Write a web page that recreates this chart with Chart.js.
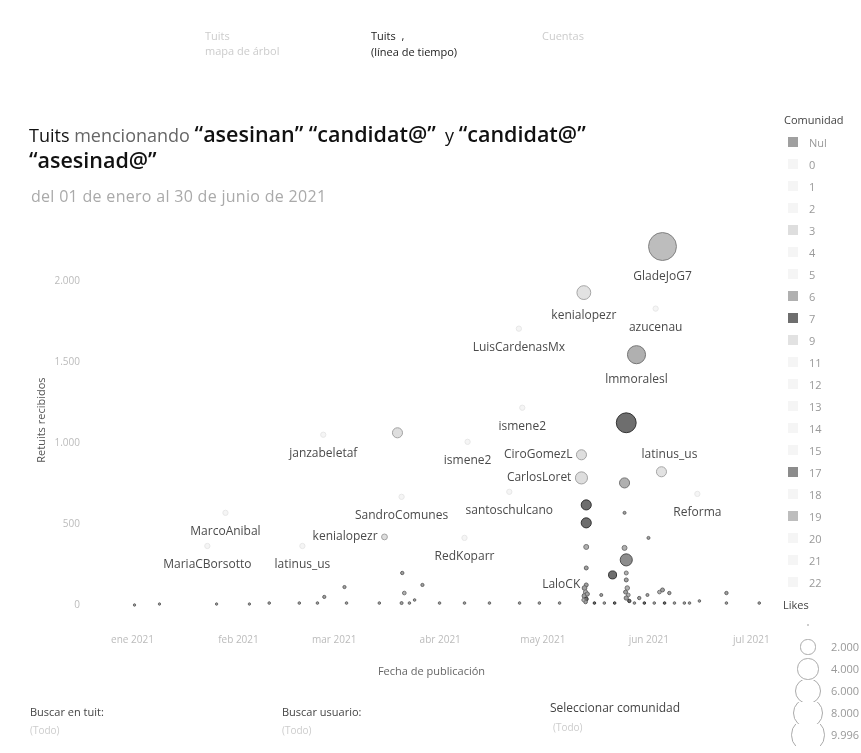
<!DOCTYPE html>
<html><head><meta charset="utf-8">
<script src="https://cdn.jsdelivr.net/npm/chart.js@4"></script>
<style>
html,body{margin:0;padding:0;background:#fff;}
body{width:861px;height:753px;position:relative;overflow:hidden;font-family:"Open Sans",sans-serif;}
.abs{position:absolute;white-space:nowrap;line-height:1;}
#cv{position:absolute;left:0;top:0;}
.lg-row{position:absolute;left:786px;width:75px;height:22px;}
.sw{position:absolute;left:2px;top:6px;width:10px;height:10px;}
.lt{position:absolute;left:23px;top:4px;font-size:11px;color:#999;}
.sz-row{position:absolute;left:778px;width:83px;height:22px;overflow:hidden;}
.circ{position:absolute;border:1px solid #aaa;border-radius:50%;background:#fff;box-sizing:border-box;}
.q{font-weight:600;font-size:21.5px;}
</style></head><body>
<canvas id="cv" width="861" height="753"></canvas>

<div class="abs" style="left:205px;top:30px;font-size:11px;color:#ccc;">Tuits</div>
<div class="abs" style="left:205px;top:45px;font-size:11px;color:#ccc;">mapa de árbol</div>
<div class="abs" style="left:371px;top:30px;font-size:11px;color:#222;">Tuits &nbsp;,</div>
<div class="abs" style="left:371px;top:46px;font-size:11px;color:#222;">(línea de tiempo)</div>
<div class="abs" style="left:542px;top:30px;font-size:11px;color:#ccc;">Cuentas</div>

<div class="abs" style="left:29px;top:123px;font-size:18px;color:#111;">Tuits <span style="color:#666">mencionando</span> <span class="q">“asesinan” “candidat@”</span>&nbsp; y <span class="q">“candidat@”</span></div>
<div class="abs" style="left:29px;top:149px;font-size:18px;color:#111;"><span class="q">“asesinad@”</span></div>
<div class="abs" style="left:31px;top:188px;font-size:16px;letter-spacing:0.3px;color:#aaa;">del 01 de enero al 30 de junio de 2021</div>

<div class="abs" style="left:30px;top:706px;font-size:11px;color:#444;">Buscar en tuit:</div>
<div class="abs" style="left:282px;top:706px;font-size:11px;color:#444;">Buscar usuario:</div>
<div class="abs" style="left:550px;top:702px;font-size:12px;color:#444;">Seleccionar comunidad</div>
<div class="abs" style="left:30px;top:725px;font-size:10px;color:#ccc;">(Todo)</div>
<div class="abs" style="left:282px;top:725px;font-size:10px;color:#ccc;">(Todo)</div>
<div class="abs" style="left:553px;top:722px;font-size:10px;color:#ccc;">(Todo)</div>

<div class="abs" style="left:784px;top:114px;font-size:11px;color:#444;">Comunidad</div>
<div id="legend"></div>
<div class="abs" style="left:783px;top:599px;font-size:11px;color:#444;">Likes</div>
<div id="sizelegend"></div>

<script>
// ---- data ----
// day of publication, counted from 1 Jan 2021 (0 = 1 ene 2021)
const pubDay = [155, 132, 153, 113, 147.4, 114, 77.5, 144.4, 55.8, 98,
  131.3, 154.7, 131.3, 143.9, 110.2, 78.7, 165.2, 132.7, 132.7, 143.9,
  27.2, 73.7, 150.9, 97.1, 21.9, 49.7, 132.7, 143.9, 144.4, 140.4,
  132.7, 144.4, 144.4, 132.7,
  132.2, 132.5, 132.2, 132.7, 132.5, 131.9, 133,
  144.7, 144.2, 145, 144.4, 145.3,
  148.2, 150.6, 154.1, 155, 157, 173.7, 173.7, 137.1, 165.8, 183.3,
  62, 78.9, 79.5, 78.7, 56.1, 54.1, 62.6, 84.8, 97.1, 113.2, 24.6, 0.6, 7.9, 34.2, 40, 48.8, 72.2, 81, 82.5, 89.8, 104.4, 119, 124.9,
  135.1, 138, 141, 146.8, 149.7, 152.6, 155.6, 158.5, 161.4, 162.9];
const retweets = [2217, 1932, 1833, 1709, 1548, 1220, 1065, 1127, 1053, 1009,
  929, 824, 786, 755, 700, 669, 687, 619, 508, 570,
  570, 421, 415, 415, 365, 365, 359, 353, 279, 186,
  229, 198, 155, 124,
  105, 80, 56, 37, 19, 31, 68,
  105, 80, 62, 43, 25,
  43, 62, 80, 93, 74, 74, 12, 62, 25, 12,
  111, 198, 74, 12, 50, 12, 12, 124, 12, 12, 6, 0, 6, 6, 12, 12, 12, 12, 31, 12, 12, 12, 12,
  12, 12, 12, 12, 12, 12, 12, 12, 12, 12];
const likes = [6900, 1700, 250, 250, 2900, 250, 900, 3500, 250, 250,
  900, 900, 1300, 900, 250, 250, 250, 900, 900, 80,
  250, 300, 80, 250, 250, 250, 220, 220, 1300, 570,
  140, 140, 140, 140,
  200, 160, 220, 140, 120, 100, 160,
  180, 140, 120, 160, 100,
  100, 80, 120, 140, 100, 100, 60, 80, 60, 60,
  90, 100, 120, 80, 90, 60, 60, 90, 60, 60, 40, 40, 40, 40, 60, 60, 60, 60, 60, 60, 60, 60, 60,
  60, 60, 60, 60, 60, 60, 60, 60, 60, 60];
const community = ['19','9','0','1','6','2','3','7','4','2',
  '3','9','3','6','5','11','12','7','7','Nul',
  '13','3','Nul','14','15','18','6','6','17','7',
  'Nul','6','Nul','Nul',
  'Nul','6','Nul','7','Nul','6','Nul',
  '6','Nul','6','Nul','7',
  'Nul','Nul','6','Nul','Nul','Nul','Nul','Nul','Nul','Nul',
  'Nul','Nul','6','Nul','Nul','Nul','Nul','Nul','Nul','Nul','Nul','Nul','Nul','Nul','Nul','Nul','Nul','Nul','Nul','Nul','Nul','Nul','Nul',
  '7','Nul','7','Nul','7','Nul','7','Nul','Nul','Nul'];
const users = ['GladeJoG7','kenialopezr','azucenau','LuisCardenasMx','lmmoralesl','ismene2','','','janzabeletaf','ismene2',
  'CiroGomezL','latinus_us','CarlosLoret','','santoschulcano','SandroComunes','Reforma','','','',
  'MarcoAnibal','kenialopezr','','RedKoparr','MariaCBorsotto','latinus_us','','','','',
  '','','','LaloCK'];
const communities = ['Nul','0','1','2','3','4','5','6','7','9','11','12','13','14','15','17','18','19','20','21','22'];
const xTickDays = [0, 31, 59, 90, 120, 151, 181];
const xTickLabels = ['ene 2021','feb 2021','mar 2021','abr 2021','may 2021','jun 2021','jul 2021'];
const yTickValues = [0, 500, 1000, 1500, 2000];
const likesLegend = [0, 2000, 4000, 6000, 8000, 9996];

// ---- styles ----
const commColor = {'Nul':'#a0a0a0','0':'#f5f5f5','1':'#f5f5f5','2':'#f5f5f5','3':'#dedede','4':'#f5f5f5','5':'#f5f5f5',
  '6':'#b0b0b0','7':'#6e6e6e','9':'#e2e2e2','11':'#f5f5f5','12':'#f5f5f5','13':'#f5f5f5','14':'#f5f5f5','15':'#f5f5f5',
  '17':'#8c8c8c','18':'#f5f5f5','19':'#bdbdbd','20':'#f5f5f5','21':'#f5f5f5','22':'#f5f5f5'};
const commBorder = c => { const v=parseInt(commColor[c].slice(1,3),16); const d=Math.max(0, v - (v>240 ? 14 : 60)).toString(16).padStart(2,'0'); return '#'+d+d+d; };
const labelPlace = {10:'left',11:'above',12:'left',21:'left',33:'left'};
const sizeOf = l => Math.max(1.2, 0.168*Math.sqrt(l));
const fmt = v => v.toLocaleString('de-DE');

const points = pubDay.map((d,i)=>({x:d, y:retweets[i]}));

const labelPlugin = {
  id:'pointLabels',
  afterDatasetsDraw(chart){
    const ctx = chart.ctx, meta = chart.getDatasetMeta(0);
    ctx.save();
    ctx.font = '12px "Open Sans"';
    ctx.fillStyle = '#4a4a4a';
    meta.data.forEach((el,i)=>{
      const t = users[i]; if(!t) return;
      const r = sizeOf(likes[i]);
      const p = labelPlace[i] || 'below';
      if(p==='below'){ ctx.textAlign='center'; ctx.textBaseline='middle'; ctx.fillText(t, el.x, el.y + r + 16); }
      else if(p==='above'){ ctx.textAlign='center'; ctx.textBaseline='middle'; ctx.fillText(t, el.x+8, el.y - r - 12); }
      else { ctx.textAlign='right'; ctx.textBaseline='middle'; ctx.fillText(t, el.x - r - 4, el.y); }
    });
    ctx.restore();
  }
};

new Chart(document.getElementById('cv'), {
  type:'scatter',
  data:{ datasets:[{
    data: points,
    pointRadius: c => sizeOf(likes[c.dataIndex]),
    pointHoverRadius: c => sizeOf(likes[c.dataIndex]),
    backgroundColor: c => commColor[community[c.dataIndex]],
    borderColor: c => commBorder(community[c.dataIndex]),
    borderWidth: 1
  }]},
  options:{
    responsive:false, animation:false, devicePixelRatio:1,
    layout:{padding:{left:30, top:225.5, right:86, bottom:70.3}},
    plugins:{legend:{display:false}, tooltip:{enabled:false}},
    scales:{
      x:{ type:'linear', min:-13, max:187.9,
        grid:{display:false, drawTicks:false}, border:{display:false},
        afterBuildTicks: s => { s.ticks = xTickDays.map(v=>({value:v})); },
        afterFit: s => { s.height = 68; },
        ticks:{ padding:19, maxRotation:0, autoSkip:false, color:'#bbb', font:{size:10, family:'"Open Sans"'},
          callback:(v)=>{ const k = xTickDays.indexOf(v); return k>=0 ? xTickLabels[k] : ''; } },
        title:{display:true, text:'Fecha de publicación', color:'#666', font:{size:11, family:'"Open Sans"'}, padding:{top:0,bottom:4}}
      },
      y:{ min:-60, max:2347,
        grid:{display:false, drawTicks:false}, border:{display:false},
        afterBuildTicks: s => { s.ticks = yTickValues.map(v=>({value:v})); },
        afterFit: s => { s.width = 58; },
        ticks:{ padding:8, color:'#bbb', font:{size:10, family:'"Open Sans"'}, callback:v=>fmt(v) },
        title:{display:true, text:'Retuits recibidos', color:'#555', font:{size:11, family:'"Open Sans"'}, padding:{top:5,bottom:0}}
      }
    }
  },
  plugins:[labelPlugin]
});

// community legend
const lg = document.getElementById('legend');
communities.forEach((c,i)=>{
  const row = document.createElement('div');
  row.className='lg-row'; row.style.top = (131 + i*22) + 'px';
  row.innerHTML = '<div class="sw" style="background:'+commColor[c]+'"></div><div class="lt">'+c+'</div>';
  lg.appendChild(row);
});
// size legend
const sl = document.getElementById('sizelegend');
likesLegend.forEach((l,i)=>{
  const row = document.createElement('div');
  row.className='sz-row'; row.style.top = (614 + i*22) + 'px';
  const r = sizeOf(l);
  row.innerHTML = '<div class="circ" style="left:'+(30-r)+'px;top:'+(11-r)+'px;width:'+(2*r)+'px;height:'+(2*r)+'px"></div>'+
    '<div class="abs" style="left:53px;top:5px;font-size:11px;color:#999">'+(l?fmt(l):'')+'</div>';
  sl.appendChild(row);
});
</script>
</body></html>
